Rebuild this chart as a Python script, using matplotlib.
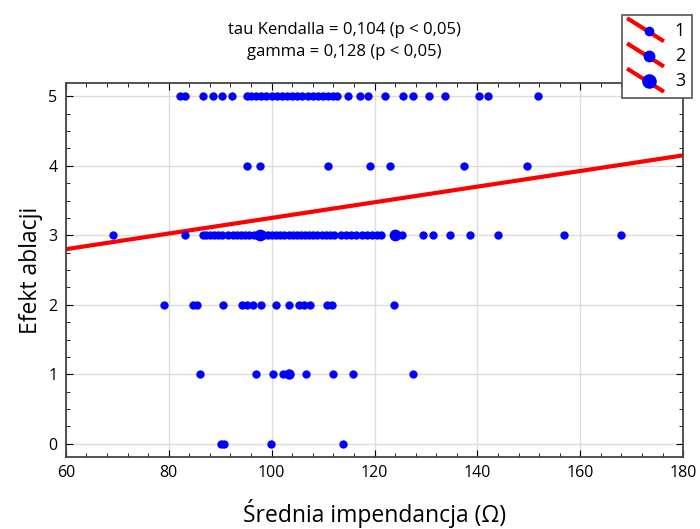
import numpy as np
import matplotlib.pyplot as plt
from matplotlib.lines import Line2D
from matplotlib.legend_handler import HandlerBase
from matplotlib.ticker import MultipleLocator

plt.rcParams['font.family'] = ['Open Sans', 'DejaVu Sans']

# impedance values per ablation effect level
imp_5 = [82.2, 83.1, 86.6, 88.6, 90.3, 92.3, 95.2, 96.0, 97.0, 98.0, 99.0, 100.0, 101.0,
         102.0, 103.0, 104.0, 105.0, 106.0, 107.0, 108.0, 109.0, 110.0, 111.0, 112.0, 112.7,
         114.8, 117.2, 118.7, 122.0, 125.5, 127.5, 130.6, 133.7, 140.3, 142.1, 151.8]
imp_4 = [95.2, 97.7, 111.0, 119.1, 123.0, 137.4, 149.7]
imp_3 = [69.1, 83.1, 86.6, 87.3, 88.0, 88.8, 89.6, 90.4, 91.5, 92.5, 93.3, 94.1, 94.9, 95.7,
         96.5, 97.2, 98.5, 99.3, 100.1, 100.9, 101.7, 102.5, 103.3, 104.1, 104.9, 105.7,
         106.5, 107.3, 108.1, 108.9, 109.7, 110.5, 111.3, 112.1, 113.5, 114.5, 115.5, 116.5,
         117.5, 118.5, 119.5, 120.5, 121.2, 125.3, 129.4, 131.4, 134.7, 138.6, 144.0, 156.8, 167.9]
big_3 = [97.7, 124.0]
imp_2 = [79.1, 84.7, 85.5, 90.5, 94.2, 95.2, 96.4, 97.9, 100.8, 103.4, 105.3, 106.3,
         107.5, 110.8, 111.7, 123.8]
imp_1 = [86.1, 97.0, 100.3, 102.2, 106.7, 111.9, 115.8, 127.5]
mid_1 = [103.4]
imp_0 = [90.2, 90.8, 99.9, 113.9]

# fitted line end points
fit_x = [60, 180]
fit_y = [2.80, 4.15]

size_labels = ['1', '2', '3']
size_ms = [6, 7.5, 8.5]
legend_ms = [7, 8.5, 10.5]

fig = plt.figure(figsize=(7, 5.29), dpi=100)
ax = fig.add_axes([0.094, 0.136, 0.882, 0.707])

ax.plot(fit_x, fit_y, color='red', lw=3, zorder=2)

groups = [(imp_5, 5, 0), (imp_4, 4, 0), (imp_3, 3, 0), (big_3, 3, 2), (imp_2, 2, 0),
          (imp_1, 1, 0), (mid_1, 1, 1), (imp_0, 0, 0)]
for xs, yv, s in groups:
    ax.plot(xs, [yv] * len(xs), ls='none', marker='o', ms=size_ms[s],
            color='#0000ff', mec='none', zorder=3)

ax.set_xlim(60, 180)
ax.set_ylim(-0.19, 5.19)
ax.set_xticks(range(60, 181, 20))
ax.set_yticks(range(0, 6))
ax.xaxis.set_minor_locator(MultipleLocator(4))
ax.yaxis.set_minor_locator(MultipleLocator(0.25))
ax.tick_params(which='both', direction='in', top=True, right=True, labelsize=11.5)
ax.tick_params(which='major', length=5, pad=6)
ax.tick_params(which='minor', length=3)
ax.grid(True, color='#dddddd', lw=1)
ax.set_axisbelow(True)
for sp in ax.spines.values():
    sp.set_color('#444444')
    sp.set_linewidth(1.3)

ax.set_xlabel('Średnia impendancja (Ω)', fontsize=16.5, labelpad=13)
ax.set_ylabel('Efekt ablacji', fontsize=16.5, labelpad=4)

fig.text(0.492, 0.943, 'tau Kendalla = 0,104 (p < 0,05)', ha='center', va='center', fontsize=12)
fig.text(0.492, 0.901, 'gamma = 0,128 (p < 0,05)', ha='center', va='center', fontsize=12)


class DiagHandler(HandlerBase):
    def create_artists(self, legend, orig_handle, xdescent, ydescent, width, height,
                       fontsize, trans):
        ln = Line2D([0, width], [height + 3, -3], color='red', lw=3, transform=trans)
        mk = Line2D([width * 0.6], [height * 0.4], marker='o', ls='none', color='#0000ff',
                    mec='none', ms=orig_handle.get_markersize(), transform=trans)
        return [ln, mk]


handles = [Line2D([], [], marker='o', ms=m) for m in legend_ms]
leg = fig.legend(handles, size_labels, loc='upper right', bbox_to_anchor=(0.989, 0.972),
                 handler_map={Line2D: DiagHandler()}, fancybox=False, edgecolor='#555555',
                 framealpha=1, fontsize=13, handlelength=1.85, handletextpad=0.7,
                 labelspacing=0.4, borderpad=0.4, borderaxespad=0)
leg.get_frame().set_linewidth(1.2)

fig.savefig('out.png', dpi=100)
